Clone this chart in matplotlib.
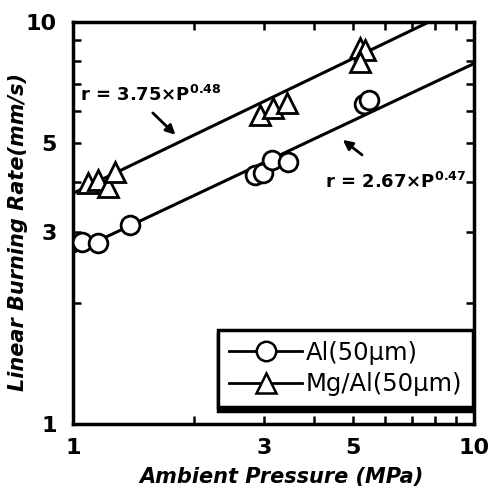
import numpy as np
import matplotlib.pyplot as plt
from matplotlib.ticker import FixedLocator, NullFormatter

# Data (pressure in MPa, burning rate in mm/s)
al_p = [1.05, 1.15, 1.39, 2.84, 2.98, 3.14, 3.44, 5.32, 5.47]
al_r = [2.84, 2.82, 3.13, 4.16, 4.21, 4.54, 4.49, 6.25, 6.40]
mg_p = [1.09, 1.15, 1.22, 1.27, 2.93, 3.15, 3.42, 5.20, 5.35, 5.20]
mg_r = [3.98, 4.05, 3.89, 4.24, 5.87, 6.11, 6.29, 8.62, 8.52, 7.96]

# Fitted power laws r = a * P^n
al_fit = (2.67, 0.47)
mg_fit = (3.75, 0.48)

tick_vals = [1, 3, 5, 10]
tick_labels = ['1', '3', '5', '10']
minor_vals = [2, 4, 6, 7, 8, 9]

fig = plt.figure(figsize=(4.88, 4.90), dpi=100)
ax = fig.add_axes([0.150, 0.135, 0.821, 0.820])
ax.set_xscale('log')
ax.set_yscale('log')
ax.set_xlim(1, 10)
ax.set_ylim(1, 10)

pp = np.logspace(0, 1, 100)
ax.plot(pp, al_fit[0] * pp ** al_fit[1], color='black', lw=2.2, zorder=2)
ax.plot(pp, mg_fit[0] * pp ** mg_fit[1], color='black', lw=2.2, zorder=2)

ax.plot(al_p, al_r, 'o', ms=13.5, mfc='white', mec='black', mew=2, zorder=3)
ax.plot(mg_p, mg_r, '^', ms=14, mfc='white', mec='black', mew=2, zorder=3)

# legend handles
h1, = ax.plot([], [], '-o', color='black', lw=2, ms=14, mfc='white', mew=1.8)
h2, = ax.plot([], [], '-^', color='black', lw=2, ms=14, mfc='white', mew=1.8)
leg = ax.legend([h1, h2], ['Al(50\u03bcm)', 'Mg/Al(50\u03bcm)'],
                loc='lower right', bbox_to_anchor=(0.998, 0.042),
                borderaxespad=0, fancybox=False, framealpha=1,
                edgecolor='black', fontsize=17.5, handlelength=3.0,
                handletextpad=0.15, borderpad=0.45, labelspacing=0.3,
                shadow={'color': 'black', 'alpha': 1, 'ox': 0, 'oy': -3})
leg.get_frame().set_linewidth(2.5)

# annotations
ax.text(1.04, 6.58, 'r = 3.75\u00d7P$^{\\mathbf{0.48}}$', fontsize=13,
        fontweight='bold', va='center', ha='left')
ax.annotate('', xy=(1.80, 5.24), xytext=(1.58, 5.94),
            arrowprops=dict(arrowstyle='-|>', color='black', lw=2,
                            mutation_scale=14, shrinkA=0, shrinkB=0))
ax.text(4.25, 4.0, 'r = 2.67\u00d7P$^{\\mathbf{0.47}}$', fontsize=13,
        fontweight='bold', va='center', ha='left')
ax.annotate('', xy=(4.71, 5.09), xytext=(5.26, 4.67),
            arrowprops=dict(arrowstyle='-|>', color='black', lw=2,
                            mutation_scale=14, shrinkA=0, shrinkB=0))

# ticks: inward minor ticks on all sides, labels only at 1, 3, 5, 10
for axis in (ax.xaxis, ax.yaxis):
    axis.set_major_locator(FixedLocator(tick_vals))
    axis.set_minor_locator(FixedLocator(minor_vals))
    axis.set_minor_formatter(NullFormatter())
ax.set_xticklabels(tick_labels)
ax.set_yticklabels(tick_labels)
ax.tick_params(which='both', direction='in', top=True, right=True,
               length=6, width=1.8)
ax.tick_params(axis='x', which='major', labelsize=16, pad=10)
ax.tick_params(axis='y', which='major', labelsize=16, pad=12)
for lab in ax.get_xticklabels() + ax.get_yticklabels():
    lab.set_fontweight('bold')
for s in ax.spines.values():
    s.set_linewidth(2.5)

ax.set_xlabel('Ambient Pressure (MPa)', fontsize=15, fontweight='bold',
              style='italic')
ax.set_ylabel('Linear Burning Rate(mm/s)', fontsize=15, fontweight='bold',
              style='italic')
ax.xaxis.set_label_coords(0.52, -0.107)
ax.yaxis.set_label_coords(-0.112, 0.478)

fig.savefig('out.png', dpi=100)
